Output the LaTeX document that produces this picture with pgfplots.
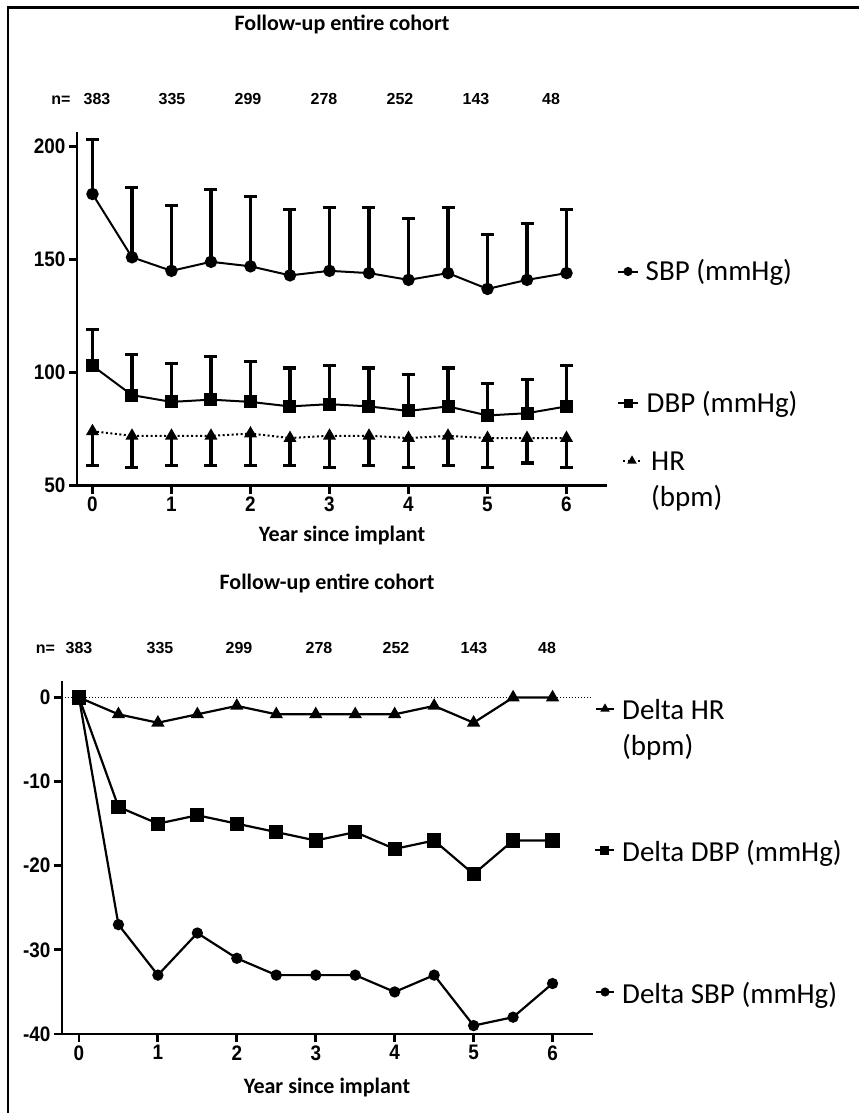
\documentclass[border=0pt]{standalone}
\usepackage{fontspec}
\setmainfont{Carlito}
\newfontfamily\arialf{Liberation Sans}
\newfontfamily\arialn[FakeStretch=0.9]{Liberation Sans}
\usepackage{pgfplots}
\pgfplotsset{compat=1.18}
\usepackage{pgfplotstable}

\pgfplotstableread{
x   sbp sbpe dbp dbpe hr hre
0   179 24   103 16   74 15
0.5 151 31   90  18   72 14
1   145 29   87  17   72 13
1.5 149 32   88  19   72 13
2   147 31   87  18   73 14
2.5 143 29   85  17   71 12
3   145 28   86  17   72 14
3.5 144 29   85  17   72 13
4   141 27   83  16   71 13
4.5 144 29   85  17   72 13
5   137 24   81  14   71 13
5.5 141 25   82  15   71 11
6   144 28   85  18   71 13
}\toptable

\pgfplotstableread{
x   dhr ddbp dsbp
0   0   0    0
0.5 -2  -13  -27
1   -3  -15  -33
1.5 -2  -14  -28
2   -1  -15  -31
2.5 -2  -16  -33
3   -2  -17  -33
3.5 -2  -16  -33
4   -2  -18  -35
4.5 -1  -17  -33
5   -3  -21  -39
5.5 0   -17  -38
6   0   -17  -34
}\bottable

\pgfplotsset{
  every error bar/.append style={line width=3.2pt, solid},
  mainax/.style={
    scale only axis, anchor=south west,
    axis lines=left,
    axis line style={line width=2.8pt, -, line cap=rect},
    tick align=outside, major tick length=8pt,
    tick style={line width=2.8pt, black},
    clip=false,
    xtick={0,1,2,3,4,5,6}, xticklabels={0,1,2,3,4,5,6},
    ticklabel style={font=\arialn\bfseries\fontsize{21}{21}\selectfont, text=black},
  },
  legax/.style={
    hide axis, scale only axis, width=1pt, height=1pt,
    xmin=0, xmax=1, ymin=0, ymax=1, anchor=west,
    legend style={draw=none, fill=none, inner sep=0pt, outer sep=0pt,
      at={(0,0.5)}, anchor=west, nodes={inner sep=0pt, outer sep=0pt},
      column sep=0pt},
  },
}

\newcommand{\legtext}{\fontsize{29}{36}\selectfont}
\newcommand{\titletext}{\bfseries\fontsize{22}{26}\selectfont}
\newcommand{\ntext}{\arialf\bfseries\fontsize{16}{16}\selectfont}

\begin{document}
\begin{tikzpicture}
\useasboundingbox (0pt,0pt) rectangle (859pt,-1113pt);
\draw[line width=2.2pt] (8pt,-1113pt) -- (8pt,-7.5pt) -- (859pt,-7.5pt);

% ---------- top panel ----------
\begin{axis}[mainax,
  at={(77pt,-485.5pt)}, width=529pt, height=352.5pt,
  xmin=-0.196, xmax=6.5, ymin=50, ymax=206,
  ytick={50,100,150,200}, yticklabels={50,100,150,200},
]
\addplot[black, line width=2pt, mark=*, mark size=5.2pt,
  error bars/.cd, y dir=plus, y explicit,
  error bar style={line width=3.2pt},
  error mark options={line width=3.2pt, mark size=6.5pt, rotate=90}]
  table[x=x, y=sbp, y error=sbpe] {\toptable};
\addplot[black, line width=2pt, mark=square*, mark size=5.5pt,
  error bars/.cd, y dir=plus, y explicit,
  error bar style={line width=3.2pt},
  error mark options={line width=3.2pt, mark size=6.5pt, rotate=90}]
  table[x=x, y=dbp, y error=dbpe] {\toptable};
\addplot[black, line width=2pt, dash pattern=on 2pt off 2.5pt,
  mark=triangle*, mark size=5.5pt, mark options={solid},
  error bars/.cd, y dir=minus, y explicit,
  error bar style={line width=3.2pt, solid},
  error mark options={line width=3.2pt, mark size=6.5pt, rotate=90, solid}]
  table[x=x, y=hr, y error=hre] {\toptable};
\end{axis}

% ---------- bottom panel ----------
\begin{axis}[mainax,
  at={(62pt,-1034pt)}, width=530pt, height=352pt,
  xmin=-0.215, xmax=6.5, ymin=-40, ymax=1.84,
  ytick={-40,-30,-20,-10,0}, yticklabels={-40,-30,-20,-10,0},
]
\addplot[black, line width=1pt, dotted] coordinates {(-0.215,0) (6.5,0)};
\addplot[black, line width=2.2pt, mark=*, mark size=4.5pt]
  table[x=x, y=dsbp] {\bottable};
\addplot[black, line width=2.2pt, mark=square*, mark size=6pt]
  table[x=x, y=ddbp] {\bottable};
\addplot[black, line width=2.2pt, mark=triangle*, mark size=5.5pt]
  table[x=x, y=dhr] {\bottable};
\end{axis}

% ---------- legends (top) ----------
\begin{axis}[legax, at={(617pt,-271.5pt)},
  legend image code/.code={\draw[#1] (0pt,0pt) -- (20pt,0pt); \draw[#1] plot coordinates {(10pt,0pt)};}]
\addlegendimage{black, line width=2pt, mark=*, mark size=3.5pt}
\addlegendentry{}
\end{axis}
\begin{axis}[legax, at={(617pt,-403pt)},
  legend image code/.code={\draw[#1] (0pt,0pt) -- (20pt,0pt); \draw[#1] plot coordinates {(10pt,0pt)};}]
\addlegendimage{black, line width=2pt, mark=square*, mark size=3.5pt}
\addlegendentry{}
\end{axis}
\begin{axis}[legax, at={(622pt,-460pt)},
  legend image code/.code={\draw[#1] (0pt,0pt) -- (18pt,0pt); \draw[#1, solid] plot coordinates {(9pt,0pt)};}]
\addlegendimage{black, line width=2pt, dash pattern=on 2pt off 3pt, mark=triangle*, mark size=3.5pt, mark options={solid}}
\addlegendentry{}
\end{axis}

% ---------- legends (bottom) ----------
\begin{axis}[legax, at={(595pt,-708pt)},
  legend image code/.code={\draw[#1] (0pt,0pt) -- (18pt,0pt); \draw[#1] plot coordinates {(9pt,0pt)};}]
\addlegendimage{black, line width=2pt, mark=triangle*, mark size=3.5pt}
\addlegendentry{}
\end{axis}
\begin{axis}[legax, at={(594pt,-850pt)},
  legend image code/.code={\draw[#1] (0pt,0pt) -- (19pt,0pt); \draw[#1] plot coordinates {(9.5pt,0pt)};}]
\addlegendimage{black, line width=2pt, mark=square*, mark size=3.5pt}
\addlegendentry{}
\end{axis}
\begin{axis}[legax, at={(595pt,-992pt)},
  legend image code/.code={\draw[#1] (0pt,0pt) -- (18pt,0pt); \draw[#1] plot coordinates {(9pt,0pt)};}]
\addlegendimage{black, line width=2pt, mark=*, mark size=3.5pt}
\addlegendentry{}
\end{axis}

% ---------- texts ----------
\node[anchor=base, font=\titletext] at (342pt,-31pt) {Follow-up entire cohort};
\node[anchor=base, font=\titletext] at (327pt,-589pt) {Follow-up entire cohort};
\node[anchor=base, font=\titletext] at (342pt,-541pt) {Year since implant};
\node[anchor=base, font=\titletext] at (327pt,-1093pt) {Year since implant};

\foreach \xx/\tt in {61/n=, 97/383, 172/335, 248/299, 324/278, 400/252, 476/143, 551/48}
  \node[anchor=base, font=\ntext, inner sep=0pt] at (\xx pt,-105pt) {\tt};
\foreach \xx/\tt in {45.5/n=, 79/383, 160/335, 239/299, 319/278, 396/252, 474/143, 547/48}
  \node[anchor=base, font=\ntext, inner sep=0pt] at (\xx pt,-653pt) {\tt};

\node[anchor=base west, font=\legtext, inner sep=0pt] at (645.5pt,-280pt) {SBP (mmHg)};
\node[anchor=base west, font=\legtext, inner sep=0pt] at (646.5pt,-412.5pt) {DBP (mmHg)};
\node[anchor=base west, font=\legtext, inner sep=0pt] at (651pt,-470.7pt) {HR};
\node[anchor=base west, font=\legtext, inner sep=0pt] at (651pt,-506.7pt) {(bpm)};

\node[anchor=base west, font=\legtext, inner sep=0pt] at (622pt,-719pt) {Delta HR};
\node[anchor=base west, font=\legtext, inner sep=0pt] at (622pt,-755pt) {(bpm)};
\node[anchor=base west, font=\legtext, inner sep=0pt] at (622pt,-861.7pt) {Delta DBP (mmHg)};
\node[anchor=base west, font=\legtext, inner sep=0pt] at (622pt,-1003pt) {Delta SBP (mmHg)};
\end{tikzpicture}
\end{document}
